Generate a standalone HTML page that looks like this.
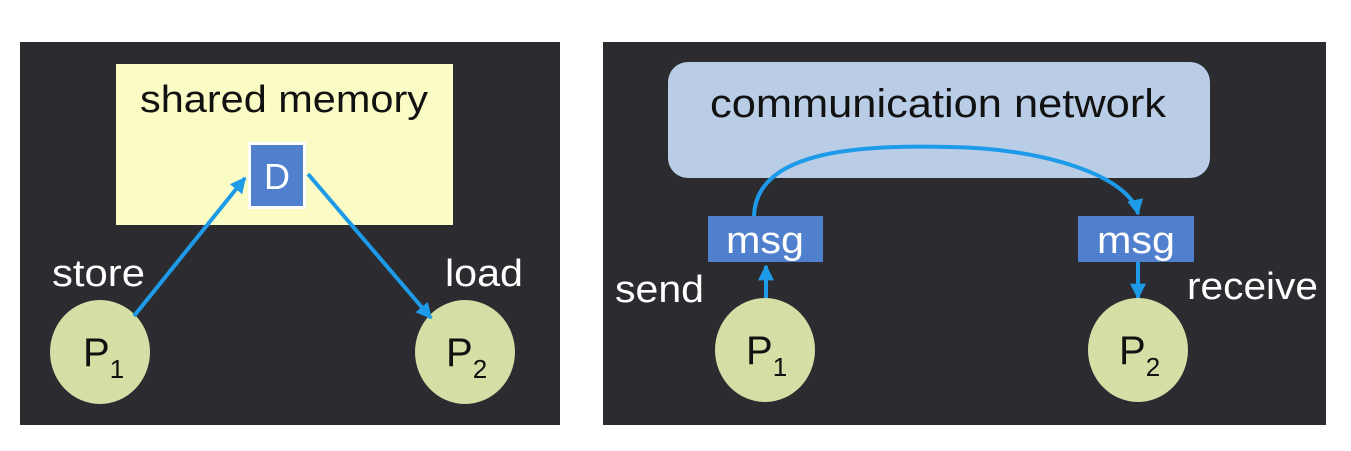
<!DOCTYPE html>
<html><head><style>
body{margin:0;background:#fff;width:1351px;height:446px;overflow:hidden}
svg text{font-family:"Liberation Sans",sans-serif}
</style></head><body>
<svg width="1351" height="446" viewBox="0 0 1351 446">
<defs>
<marker id="a" viewBox="0 0 10 10" refX="9" refY="5" markerWidth="4" markerHeight="4" orient="auto"><path d="M0,0L10,5L0,10z" fill="#1e9be8"/></marker>
</defs>
<rect x="20" y="42" width="540" height="383" fill="#2b2b30"/>
<rect x="116" y="64" width="337" height="161" fill="#fbfbc6"/>
<text x="140" y="112" font-size="38" textLength="288" lengthAdjust="spacingAndGlyphs" fill="#111">shared memory</text>
<rect x="248" y="142" width="58" height="67" fill="#fff"/>
<rect x="251" y="145" width="52" height="61" fill="#4f7fcd"/>
<text x="277" y="189" font-size="36" text-anchor="middle" fill="#fff">D</text>
<ellipse cx="100" cy="352" rx="50" ry="52" fill="#d3dfa4"/>
<ellipse cx="465" cy="352" rx="50" ry="52" fill="#d3dfa4"/>
<text x="83" y="366" font-size="40" fill="#111">P<tspan font-size="26" dy="12">1</tspan></text>
<text x="446" y="366" font-size="40" fill="#111">P<tspan font-size="26" dy="12">2</tspan></text>
<text x="52" y="286" font-size="38" textLength="93" lengthAdjust="spacingAndGlyphs" fill="#fff">store</text>
<text x="445" y="286" font-size="38" textLength="78" lengthAdjust="spacingAndGlyphs" fill="#fff">load</text>
<line x1="134" y1="316" x2="245" y2="178" stroke="#1e9be8" stroke-width="4" marker-end="url(#a)"/>
<line x1="308" y1="174" x2="431" y2="318" stroke="#1e9be8" stroke-width="4" marker-end="url(#a)"/>

<rect x="603" y="42" width="723" height="383" fill="#2b2b30"/>
<rect x="668" y="62" width="542" height="116" rx="20" fill="#b9cde6"/>
<text x="710" y="117" font-size="40" textLength="456" lengthAdjust="spacingAndGlyphs" fill="#111">communication network</text>
<rect x="708" y="216" width="115" height="46" fill="#4f7fcd"/>
<rect x="1078" y="216" width="116" height="46" fill="#4f7fcd"/>
<text x="726" y="253" font-size="38" textLength="78" lengthAdjust="spacingAndGlyphs" fill="#fff">msg</text>
<text x="1097" y="253" font-size="38" textLength="78" lengthAdjust="spacingAndGlyphs" fill="#fff">msg</text>
<path d="M754,216 C756,150 860,145 950,147 C1040,148 1130,175 1138,214" fill="none" stroke="#1e9be8" stroke-width="4" marker-end="url(#a)"/>
<line x1="766" y1="300" x2="766" y2="266" stroke="#1e9be8" stroke-width="4" marker-end="url(#a)"/>
<line x1="1138" y1="262" x2="1138" y2="298" stroke="#1e9be8" stroke-width="4" marker-end="url(#a)"/>
<ellipse cx="765" cy="350" rx="50" ry="52" fill="#d3dfa4"/>
<ellipse cx="1138" cy="350" rx="50" ry="52" fill="#d3dfa4"/>
<text x="746" y="364" font-size="40" fill="#111">P<tspan font-size="26" dy="12">1</tspan></text>
<text x="1119" y="364" font-size="40" fill="#111">P<tspan font-size="26" dy="12">2</tspan></text>
<text x="615" y="302" font-size="38" textLength="89" lengthAdjust="spacingAndGlyphs" fill="#fff">send</text>
<text x="1187" y="299" font-size="38" textLength="131" lengthAdjust="spacingAndGlyphs" fill="#fff">receive</text>
</svg>
</body></html>
